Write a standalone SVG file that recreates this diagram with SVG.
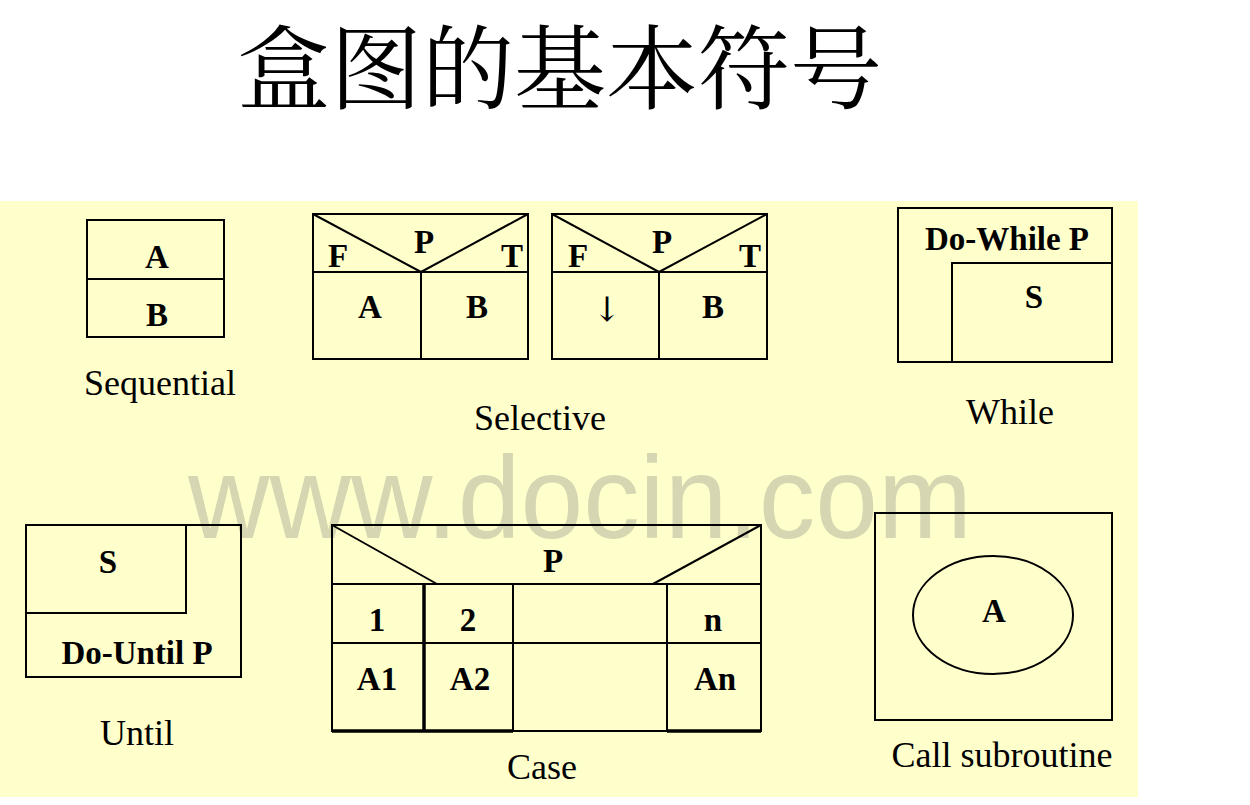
<svg xmlns="http://www.w3.org/2000/svg" width="1250" height="805" viewBox="0 0 1250 805">
<style>
.bx{fill:none;stroke:#000;stroke-width:2}
.thk{fill:none;stroke:#000;stroke-width:3.5}
.lb{font-family:"Liberation Serif","Times New Roman",serif;font-weight:bold;font-size:33px;fill:#000;text-anchor:middle}
.cap{font-family:"Liberation Serif","Times New Roman",serif;font-size:36px;fill:#000;text-anchor:middle}
</style>
<rect x="0" y="0" width="1250" height="805" fill="#fff"/>
<rect x="0" y="201" width="1138" height="596" fill="#ffffcc"/>
<text x="238" y="102" font-family="'Noto Serif CJK SC','Noto Sans CJK SC',serif" font-size="92" fill="#000">盒图的基本符号</text>
<text x="188" y="538" font-family="'Liberation Sans',Arial,sans-serif" font-size="116" fill="#d6d6b2" textLength="784" lengthAdjust="spacingAndGlyphs">www.docin.com</text>

<g id="sequential">
<rect class="bx" x="87" y="220" width="137" height="117"/>
<line class="bx" x1="87" y1="279" x2="224" y2="279"/>
<text class="lb" x="157" y="268">A</text>
<text class="lb" x="157" y="326">B</text>
<text class="cap" x="160" y="395">Sequential</text>
</g>

<g id="selective1">
<rect class="bx" x="313" y="214" width="215" height="145"/>
<line class="bx" x1="313" y1="272" x2="528" y2="272"/>
<line class="bx" x1="421" y1="272" x2="421" y2="359"/>
<polyline class="bx" points="313,214 421,272 528,214"/>
<text class="lb" x="338" y="267">F</text>
<text class="lb" x="424" y="253">P</text>
<text class="lb" x="512" y="267">T</text>
<text class="lb" x="370" y="318">A</text>
<text class="lb" x="477" y="318">B</text>
</g>

<g id="selective2">
<rect class="bx" x="552" y="214" width="215" height="145"/>
<line class="bx" x1="552" y1="272" x2="767" y2="272"/>
<line class="bx" x1="659" y1="272" x2="659" y2="359"/>
<polyline class="bx" points="552,214 659,272 767,214"/>
<text class="lb" x="578" y="267">F</text>
<text class="lb" x="662" y="253">P</text>
<text class="lb" x="750" y="267">T</text>
<text x="607" y="321" font-family="'DejaVu Serif',serif" font-size="34" text-anchor="middle" fill="#000">↓</text>
<text class="lb" x="713" y="318">B</text>
</g>
<text class="cap" x="540" y="430">Selective</text>

<g id="while">
<rect class="bx" x="898" y="208" width="214" height="154"/>
<polyline class="bx" points="952,362 952,263 1112,263"/>
<text class="lb" x="1007" y="250">Do-While P</text>
<text class="lb" x="1034" y="308">S</text>
<text class="cap" x="1010" y="424">While</text>
</g>

<g id="until">
<rect class="bx" x="26" y="525" width="215" height="152"/>
<polyline class="bx" points="26,613 186,613 186,525"/>
<text class="lb" x="108" y="573">S</text>
<text class="lb" x="137" y="664">Do-Until P</text>
<text class="cap" x="137" y="745">Until</text>
</g>

<g id="case">
<rect class="bx" x="332" y="525" width="429" height="206"/>
<line class="bx" x1="332" y1="584" x2="761" y2="584"/>
<line class="bx" x1="332" y1="643" x2="761" y2="643"/>
<line class="thk" x1="424" y1="584" x2="424" y2="731"/>
<line class="bx" x1="513" y1="584" x2="513" y2="731"/>
<line class="bx" x1="667" y1="584" x2="667" y2="731"/>
<line class="thk" x1="332" y1="731" x2="513" y2="731"/>
<line class="thk" x1="667" y1="731" x2="761" y2="731"/>
<line class="bx" x1="332" y1="525" x2="437" y2="584"/>
<line class="bx" x1="761" y1="525" x2="653" y2="584"/>
<text class="lb" x="553" y="572">P</text>
<text class="lb" x="377" y="631">1</text>
<text class="lb" x="468" y="631">2</text>
<text class="lb" x="713" y="631">n</text>
<text class="lb" x="377" y="690">A1</text>
<text class="lb" x="470" y="690">A2</text>
<text class="lb" x="715" y="690">An</text>
<text class="cap" x="542" y="779">Case</text>
</g>

<g id="call">
<rect class="bx" x="875" y="513" width="237" height="207"/>
<ellipse class="bx" cx="993" cy="615" rx="80" ry="59"/>
<text class="lb" x="994" y="622">A</text>
<text class="cap" x="1002" y="767">Call subroutine</text>
</g>
</svg>
